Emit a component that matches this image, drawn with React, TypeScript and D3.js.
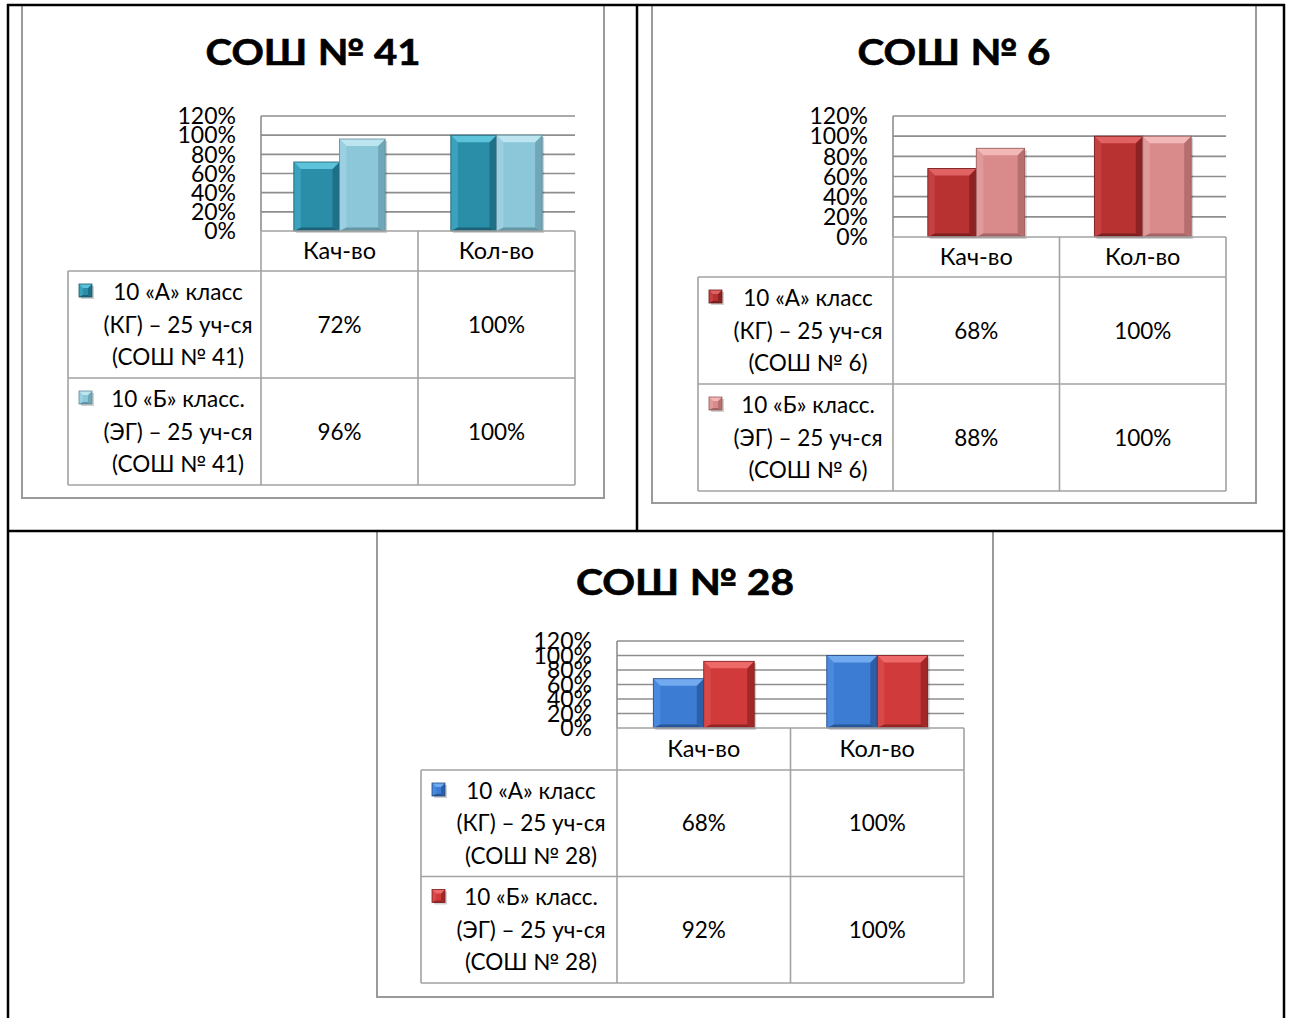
// ─── School charts ───────────────────────────────────────────────────────────
//
// Three Excel-style 3D column charts with a data table under the plot,
// drawn inside a document table grid. D3 handles scales; React renders SVG.

import * as d3 from "d3";

const categories = ["Кач-во", "Кол-во"];
const tickValues = [0, 20, 40, 60, 80, 100, 120];

const sosh41A = [72, 100];
const sosh41B = [96, 100];
const sosh6A = [68, 100];
const sosh6B = [88, 100];
const sosh28A = [68, 100];
const sosh28B = [92, 100];

const names41 = [
  ["10 «А» класс", "(КГ) – 25 уч-ся", "(СОШ № 41)"],
  ["10 «Б» класс.", "(ЭГ) – 25 уч-ся", "(СОШ № 41)"],
];
const names6 = [
  ["10 «А» класс", "(КГ) – 25 уч-ся", "(СОШ № 6)"],
  ["10 «Б» класс.", "(ЭГ) – 25 уч-ся", "(СОШ № 6)"],
];
const names28 = [
  ["10 «А» класс", "(КГ) – 25 уч-ся", "(СОШ № 28)"],
  ["10 «Б» класс.", "(ЭГ) – 25 уч-ся", "(СОШ № 28)"],
];

const FONT = "Lato, 'Noto Sans', sans-serif";
const GRID = "#8e8e8e";
const TABLE = "#a2a2a2";

interface Shade {
  main: string;
  top: string;
  left: string;
  right: string;
  bottom: string;
  edge: string;
}

const teal: Shade = { main: "#2b8ea9", top: "#5cc3db", left: "#3aa2bd", right: "#1f6f86", bottom: "#1c6377", edge: "#1b5a6c" };
const lightTeal: Shade = { main: "#8cc6d9", top: "#bde5f0", left: "#9ad0e1", right: "#6fa7b9", bottom: "#6496a6", edge: "#5f8c9b" };
const darkRed: Shade = { main: "#b83232", top: "#e06262", left: "#c54040", right: "#8c2222", bottom: "#7d1e1e", edge: "#6e1a1a" };
const pink: Shade = { main: "#d98b8b", top: "#f2b8b8", left: "#e19a9a", right: "#b66f6f", bottom: "#a56464", edge: "#955a5a" };
const blue: Shade = { main: "#3c7dd3", top: "#72aaf0", left: "#4a8ade", right: "#2b5fa8", bottom: "#275595", edge: "#234c85" };
const red: Shade = { main: "#d03a3a", top: "#ee6a6a", left: "#d94848", right: "#a22828", bottom: "#922424", edge: "#7e2020" };

interface Box { x: number; y: number; w: number; h: number }
interface Plot { l: number; r: number; t: number; b: number }

interface ChartProps {
  title: string;
  titleY: number;
  titleW: number;
  frame: Box;
  plot: Plot;
  headerB: number;
  rowH: number;
  legendL: number;
  seriesA: number[];
  seriesB: number[];
  names: string[][];
  shades: Shade[];
}

function Bevel({ x, y, w, h, s, b }: { x: number; y: number; w: number; h: number; s: Shade; b: number }) {
  const bb = Math.min(b, h / 2);
  const pts = (a: number[][]) => a.map((p) => p.join(",")).join(" ");
  return (
    <g>
      <rect x={x + 2} y={y + 2} width={w} height={h} fill="#000" opacity={0.18} />
      <rect x={x} y={y} width={w} height={h} fill={s.main} />
      <polygon points={pts([[x, y], [x + bb, y + bb], [x + bb, y + h - bb / 2], [x, y + h]])} fill={s.left} />
      <polygon points={pts([[x + w, y], [x + w - bb, y + bb], [x + w - bb, y + h - bb / 2], [x + w, y + h]])} fill={s.right} />
      <polygon points={pts([[x, y + h], [x + bb, y + h - bb / 2], [x + w - bb, y + h - bb / 2], [x + w, y + h]])} fill={s.bottom} />
      <polygon points={pts([[x, y], [x + w, y], [x + w - bb, y + bb], [x + bb, y + bb]])} fill={s.top} />
      <rect x={x} y={y} width={w} height={h} fill="none" stroke={s.edge} strokeWidth={0.8} />
    </g>
  );
}

function Chart(p: ChartProps) {
  const { frame, plot } = p;
  const y = d3.scaleLinear().domain([0, 120]).range([plot.b, plot.t]);
  const x0 = d3.scaleBand<string>().domain(categories).range([plot.l, plot.r]);
  const x1 = d3
    .scaleBand<number>()
    .domain([0, 1])
    .range([0, x0.bandwidth()])
    .paddingInner(0)
    .paddingOuter(0.72);
  const series = [p.seriesA, p.seriesB];
  const rowTops = [p.headerB, p.headerB + p.rowH];
  const tableB = p.headerB + 2 * p.rowH;
  const cx = (frame.x + frame.x + frame.w) / 2;
  const legendCx = p.legendL + 110;

  return (
    <g>
      {/* frame */}
      <rect x={frame.x} y={frame.y} width={frame.w} height={frame.h} fill="#fff" stroke="#9a9a9a" strokeWidth={2} />

      {/* title */}
      <text
        x={cx}
        y={p.titleY}
        textAnchor="middle"
        fontFamily={FONT}
        fontWeight={700}
        fontSize={36}
        textLength={p.titleW}
        lengthAdjust="spacingAndGlyphs"
        fill="#000"
        stroke="#000"
        strokeWidth={0.6}
      >
        {p.title}
      </text>

      {/* gridlines + y labels */}
      {tickValues.map((t) => (
        <g key={t}>
          {t > 0 && <line x1={plot.l} x2={plot.r} y1={y(t)} y2={y(t)} stroke={GRID} strokeWidth={1.6} />}
          <text
            x={plot.l - 25}
            y={y(t)}
            dy="0.36em"
            textAnchor="end"
            fontFamily={FONT}
            fontSize={23}
            fill="#000"
          >
            {t}%
          </text>
        </g>
      ))}
      <line x1={plot.l} x2={plot.l} y1={plot.t} y2={plot.b} stroke={GRID} strokeWidth={1.6} />

      {/* bars */}
      {categories.map((c, ci) =>
        series.map((vals, si) => {
          const bx = (x0(c) ?? 0) + (x1(si) ?? 0);
          const by = y(vals[ci]);
          return (
            <Bevel key={c + si} x={bx} y={by} w={x1.bandwidth()} h={plot.b - by} s={p.shades[si]} b={7} />
          );
        })
      )}

      {/* data table */}
      <g stroke={TABLE} strokeWidth={1.6} fill="none">
        <line x1={plot.l} x2={plot.r} y1={plot.b} y2={plot.b} />
        <line x1={p.legendL} x2={plot.r} y1={p.headerB} y2={p.headerB} />
        <line x1={p.legendL} x2={plot.r} y1={rowTops[1]} y2={rowTops[1]} />
        <line x1={p.legendL} x2={plot.r} y1={tableB} y2={tableB} />
        <line x1={p.legendL} x2={p.legendL} y1={p.headerB} y2={tableB} />
        <line x1={plot.l} x2={plot.l} y1={plot.b} y2={tableB} />
        <line x1={x0(categories[1])} x2={x0(categories[1])} y1={plot.b} y2={tableB} />
        <line x1={plot.r} x2={plot.r} y1={plot.b} y2={tableB} />
      </g>

      {categories.map((c) => (
        <text
          key={c}
          x={(x0(c) ?? 0) + x0.bandwidth() / 2}
          y={(plot.b + p.headerB) / 2}
          dy="0.36em"
          textAnchor="middle"
          fontFamily={FONT}
          fontSize={23.5}
          fill="#000"
        >
          {c}
        </text>
      ))}

      {series.map((vals, si) => {
        const mid = rowTops[si] + p.rowH / 2;
        return (
          <g key={si}>
            <Bevel x={p.legendL + 11} y={rowTops[si] + 13} w={13} h={13} s={p.shades[si]} b={4} />
            {p.names[si].map((line, li) => (
              <text
                key={li}
                x={legendCx}
                y={mid + (li - 1) * 32.5}
                dy="0.36em"
                textAnchor="middle"
                fontFamily={FONT}
                fontSize={22.5}
                fill="#000"
              >
                {line}
              </text>
            ))}
            {categories.map((c, ci) => (
              <text
                key={c}
                x={(x0(c) ?? 0) + x0.bandwidth() / 2}
                y={mid}
                dy="0.36em"
                textAnchor="middle"
                fontFamily={FONT}
                fontSize={22.5}
                fill="#000"
              >
                {vals[ci]}%
              </text>
            ))}
          </g>
        );
      })}
    </g>
  );
}

export default function App() {
  return (
    <svg
      width={1291}
      height={1018}
      viewBox="0 0 1291 1018"
      style={{ position: "absolute", left: 0, top: 0, background: "#fff" }}
    >
      <rect width={1291} height={1018} fill="#fff" />
      <Chart
        title="СОШ № 41"
        titleY={65}
        titleW={215}
        frame={{ x: 22, y: 5, w: 582, h: 493 }}
        plot={{ l: 261, r: 575, t: 116, b: 231 }}
        headerB={271}
        rowH={107}
        legendL={68}
        seriesA={sosh41A}
        seriesB={sosh41B}
        names={names41}
        shades={[teal, lightTeal]}
      />
      <Chart
        title="СОШ № 6"
        titleY={65}
        titleW={193}
        frame={{ x: 652, y: 5, w: 604, h: 498 }}
        plot={{ l: 893, r: 1226, t: 116, b: 237 }}
        headerB={277}
        rowH={107}
        legendL={698}
        seriesA={sosh6A}
        seriesB={sosh6B}
        names={names6}
        shades={[darkRed, pink]}
      />
      <Chart
        title="СОШ № 28"
        titleY={595}
        titleW={218}
        frame={{ x: 377, y: 531, w: 616, h: 466 }}
        plot={{ l: 617, r: 964, t: 641, b: 728 }}
        headerB={770}
        rowH={106.5}
        legendL={421}
        seriesA={sosh28A}
        seriesB={sosh28B}
        names={names28}
        shades={[blue, red]}
      />

      {/* document table grid */}
      <g stroke="#000" strokeWidth={2.5}>
        <line x1={7} x2={1285} y1={5} y2={5} />
        <line x1={8} x2={8} y1={4} y2={1018} />
        <line x1={1284} x2={1284} y1={4} y2={1018} />
        <line x1={637} x2={637} y1={5} y2={531} />
        <line x1={7} x2={1285} y1={531} y2={531} />
      </g>
    </svg>
  );
}
